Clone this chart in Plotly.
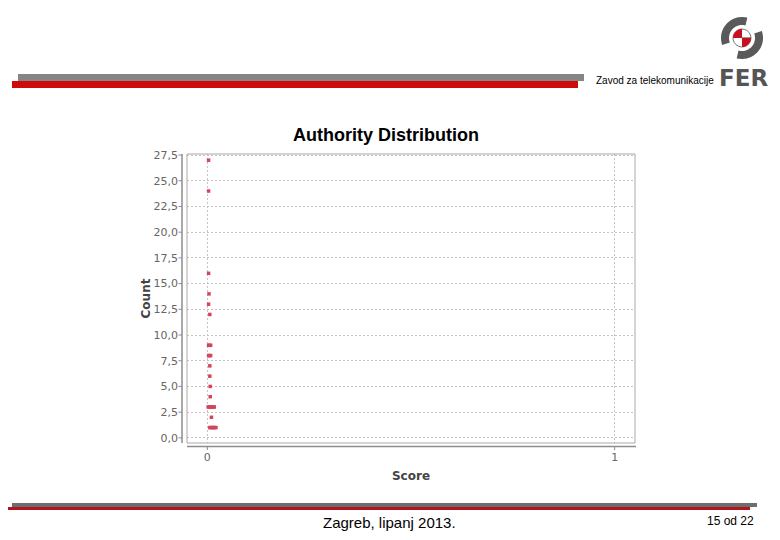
import numpy as np
import plotly.graph_objects as go

# ---- data (score, count) ----
scores = [0.003, 0.003, 0.003, 0.004, 0.003, 0.006,
          0.003, 0.005, 0.008,
          0.003, 0.005, 0.008,
          0.006, 0.006, 0.007, 0.007,
          0.002, 0.005, 0.008, 0.011, 0.014, 0.017,
          0.010,
          0.006, 0.009, 0.012, 0.015, 0.018, 0.021]
counts = [27, 24, 16, 14, 13, 12,
          9, 9, 9,
          8, 8, 8,
          7, 6, 5, 4,
          3, 3, 3, 3, 3, 3,
          2,
          1, 1, 1, 1, 1, 1]
y_ticks = [0, 2.5, 5, 7.5, 10, 12.5, 15, 17.5, 20, 22.5, 25, 27.5]
x_ticks = [0, 1]

title_text = "Authority Distribution"
x_title = "Score"
y_title = "Count"
header_text = "Zavod za telekomunikacije"
footer_text = "Zagreb, lipanj 2013."
page_text = "15 od 22"

OFF = 8                      # page body margin
W, H = 780 - OFF, 540 - OFF
L, R, T, B = 187, 635, 154, 443   # page pixel coords of the plot box
PW, PH = R - L, B - T


def px(x):
    return (x - L) / PW


def py(y):
    return (B - y) / PH


fig = go.Figure()
fig.add_trace(go.Scatter(
    x=scores, y=counts, mode="markers",
    marker=dict(symbol="square", size=3.5, color="#d4445a", line=dict(width=0)),
    showlegend=False, hoverinfo="x+y"))

shapes = []
grey_ax = "#8c8c8c"
# plot outline
shapes.append(dict(type="rect", xref="paper", yref="paper", x0=0, x1=1, y0=0, y1=1,
                   line=dict(color="#a8a8a8", width=1), layer="above"))
# offset axis lines
shapes.append(dict(type="line", xref="paper", yref="paper", x0=px(182), x1=px(182),
                   y0=py(443), y1=py(154), line=dict(color=grey_ax, width=1.5)))
shapes.append(dict(type="line", xref="paper", yref="paper", x0=px(187), x1=px(636),
                   y0=py(446.5), y1=py(446.5), line=dict(color=grey_ax, width=1.5)))
# tick marks
for v in y_ticks:
    shapes.append(dict(type="line", xref="paper", yref="y", x0=px(178.5), x1=px(182),
                       y0=v, y1=v, line=dict(color=grey_ax, width=1)))
for v in x_ticks:
    shapes.append(dict(type="line", xref="x", yref="paper", x0=v, x1=v,
                       y0=py(446.5), y1=py(450), line=dict(color=grey_ax, width=1)))

# slide header bars
shapes.append(dict(type="rect", xref="paper", yref="paper", x0=px(18), x1=px(584),
                   y0=py(81), y1=py(74), fillcolor="#858585", line=dict(width=0)))
shapes.append(dict(type="rect", xref="paper", yref="paper", x0=px(12), x1=px(578),
                   y0=py(88), y1=py(81), fillcolor="#cf0a0a", line=dict(width=0)))
# footer bars
shapes.append(dict(type="rect", xref="paper", yref="paper", x0=px(12), x1=px(757),
                   y0=py(507), y1=py(503), fillcolor="#6e6e6e", line=dict(width=0)))
shapes.append(dict(type="rect", xref="paper", yref="paper", x0=px(7), x1=px(750),
                   y0=py(510), y1=py(507), fillcolor="#b3141e", line=dict(width=0)))


# logo (decorative)
def arc_path(cx, cy, r, a0, a1, n=30):
    a = np.radians(np.linspace(a0, a1, n))
    pts = [(px(cx + r * np.cos(t)), py(cy - r * np.sin(t))) for t in a]
    return "M " + " L ".join(f"{x:.5f},{y:.5f}" for x, y in pts)


def wedge_path(cx, cy, r, a0, a1, n=20):
    a = np.radians(np.linspace(a0, a1, n))
    pts = [(px(cx), py(cy))] + [(px(cx + r * np.cos(t)), py(cy - r * np.sin(t))) for t in a]
    return "M " + " L ".join(f"{x:.5f},{y:.5f}" for x, y in pts) + " Z"


cx, cy = 742, 38
shapes.append(dict(type="path", xref="paper", yref="paper", path=arc_path(cx, cy, 17, 75, 200),
                   line=dict(color="#5a5a5a", width=8)))
shapes.append(dict(type="path", xref="paper", yref="paper", path=arc_path(cx, cy, 17, 255, 380),
                   line=dict(color="#5a5a5a", width=8)))
shapes.append(dict(type="path", xref="paper", yref="paper", path=wedge_path(cx, cy, 9, 0, 360),
                   fillcolor="white", line=dict(color="#777", width=1)))
shapes.append(dict(type="path", xref="paper", yref="paper", path=wedge_path(cx, cy, 9, 90, 180),
                   fillcolor="#c8101e", line=dict(width=0)))
shapes.append(dict(type="path", xref="paper", yref="paper", path=wedge_path(cx, cy, 9, 270, 360),
                   fillcolor="#c8101e", line=dict(width=0)))

annotations = [
    dict(text=header_text, xref="paper", yref="paper", x=px(594), y=py(80),
         xanchor="left", yanchor="middle", showarrow=False,
         font=dict(family="Liberation Sans Narrow, Liberation Sans", size=10, color="#000")),
    dict(text="<b>FER</b>", xref="paper", yref="paper", x=px(743), y=py(78),
         xanchor="center", yanchor="middle", showarrow=False,
         font=dict(family="DejaVu Sans", size=23, color="#555")),
    dict(text=footer_text, xref="paper", yref="paper", x=px(389), y=py(522),
         xanchor="center", yanchor="middle", showarrow=False,
         font=dict(family="Liberation Sans", size=15, color="#000")),
    dict(text=page_text, xref="paper", yref="paper", x=px(730), y=py(521),
         xanchor="center", yanchor="middle", showarrow=False,
         font=dict(family="Liberation Sans Narrow, Liberation Sans", size=12, color="#000")),
]

fig.update_layout(
    width=W, height=H, autosize=False,
    margin=dict(l=L - OFF, r=780 - R, t=T - OFF, b=540 - B, pad=0),
    paper_bgcolor="white", plot_bgcolor="white",
    separators=",.",
    title=dict(text="<b>" + title_text + "</b>", x=(386 - OFF) / W, xanchor="center",
               y=1 - (135 - OFF) / H, yanchor="middle", xref="container", yref="container",
               font=dict(family="Liberation Sans", size=18, color="#000")),
    shapes=shapes, annotations=annotations,
    font=dict(family="DejaVu Sans", size=11, color="#555"),
)
fig.update_xaxes(range=[-0.05, 1.05], tickvals=x_ticks, tickformat="d",
                 showgrid=True, gridcolor="#c4c4c4", griddash="2px,2px", gridwidth=1,
                 zeroline=False, showline=False, ticks="", ticklabelstandoff=6,
                 tickfont=dict(family="DejaVu Sans", size=11, color="#666"),
                 title=dict(text="<b>" + x_title + "</b>", standoff=8,
                            font=dict(family="DejaVu Sans", size=12, color="#444")))
fig.update_yaxes(range=[-0.5, 27.6], tickvals=y_ticks, tickformat=".1f",
                 showgrid=True, gridcolor="#c4c4c4", griddash="2px,2px", gridwidth=1,
                 zeroline=False, showline=False, ticks="", ticklabelstandoff=8,
                 tickfont=dict(family="DejaVu Sans", size=11, color="#666"),
                 title=dict(text="<b>" + y_title + "</b>", standoff=0,
                            font=dict(family="DejaVu Sans", size=12, color="#444")))

fig.write_html("out.html")
